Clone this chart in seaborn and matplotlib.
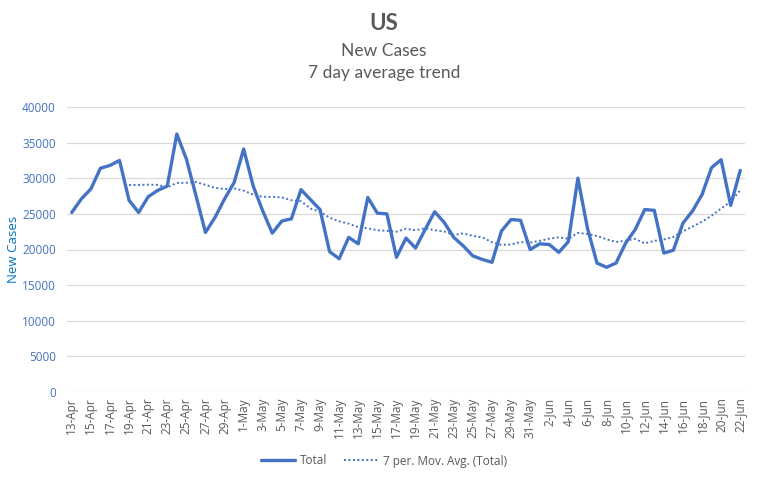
import pandas as pd
import numpy as np
import matplotlib
matplotlib.use("Agg")
import matplotlib.pyplot as plt
import seaborn as sns

# datas (13-Apr .. 22-Jun)
datas = pd.date_range("2020-04-13", "2020-06-22", freq="D")

casos_abril = [25200, 27100, 28500, 31400, 31800, 32500, 26900, 25200, 27400,
               28300, 28900, 36200, 32700, 27600, 22400, 24500, 27100, 29400]
casos_maio = [34100, 28900, 25400, 22300, 24000, 24300, 28400, 27000, 25600,
              19700, 18700, 21700, 20800, 27300, 25100, 25000, 18900, 21600,
              20200, 22800, 25300, 23800, 21700, 20500, 19100, 18600, 18200,
              22600, 24200, 24100, 20000]
casos_junho = [20800, 20700, 19600, 21100, 30000, 23000, 18100, 17500, 18100,
               20900, 22800, 25600, 25500, 19500, 19900, 23700, 25400, 27700,
               31500, 32600, 26200, 31100]

rotulos = [f"{d.day}-{d:%b}" for d in datas]

df = pd.DataFrame({
    "pos": np.arange(len(datas)),
    "total": casos_abril + casos_maio + casos_junho,
})
# media movel de 7 periodos (linha de tendencia do Excel)
df["media"] = df["total"].rolling(7).mean()

sns.set_theme(style="white")
plt.rcParams["font.family"] = ["Lato", "DejaVu Sans"]

azul = "#4472C4"
cinza = "#595959"
fonte_eixo = ["Open Sans", "DejaVu Sans"]

fig = plt.figure(figsize=(7.68, 4.8), dpi=100)
ax = fig.add_axes([67 / 768, 1 - 392 / 480, (745 - 67) / 768, (392 - 107) / 480])

sns.lineplot(data=df, x="pos", y="total", ax=ax, color=azul, linewidth=2.4,
             label="Total")
sns.lineplot(data=df.dropna(), x="pos", y="media", ax=ax, color=azul,
             linewidth=1.4, linestyle=(0, (1, 1.3)),
             label="7 per. Mov. Avg. (Total)")

ax.set_xlim(-0.5, len(datas) - 0.5)
ax.set_ylim(0, 40000)
ax.set_yticks(range(0, 40001, 5000))
ax.set_xticks(df["pos"][::2])
ax.set_xticklabels(rotulos[::2], rotation=90, color=cinza, fontsize=8.5,
                   family=fonte_eixo)
ax.tick_params(axis="y", colors=azul, labelsize=8.5, length=0, pad=8)
ax.tick_params(axis="x", length=0, pad=4)
for t in ax.get_yticklabels():
    t.set_family(fonte_eixo)
ax.grid(axis="y", color="#D9D9D9", linewidth=0.9)
for s in ax.spines.values():
    s.set_visible(False)
ax.set_xlabel("")
ax.set_ylabel("New Cases", color="#0070C0", fontsize=9.5,
              family=fonte_eixo, labelpad=0)
ax.yaxis.set_label_coords(-(67 - 20) / 678, 0.5)

fig.text(0.5, 1 - 24 / 480, "US", ha="center", va="center", fontsize=16,
         fontweight="bold", color=cinza)
fig.text(0.5, 1 - 51 / 480, "New Cases", ha="center", va="center",
         fontsize=12.5, color=cinza)
fig.text(0.5, 1 - 73 / 480, "7 day average trend", ha="center", va="center",
         fontsize=12.5, color=cinza)

ax.get_legend().remove()
h, l = ax.get_legend_handles_labels()
leg = fig.legend(h, l, loc="center", bbox_to_anchor=(0.5, 1 - 461 / 480),
                 ncol=2, frameon=False, handlelength=2.9,
                 columnspacing=1.5, handletextpad=0.35,
                 prop={"family": fonte_eixo, "size": 8.5})
for t in leg.get_texts():
    t.set_color(cinza)

fig.savefig("out.png", dpi=100)
